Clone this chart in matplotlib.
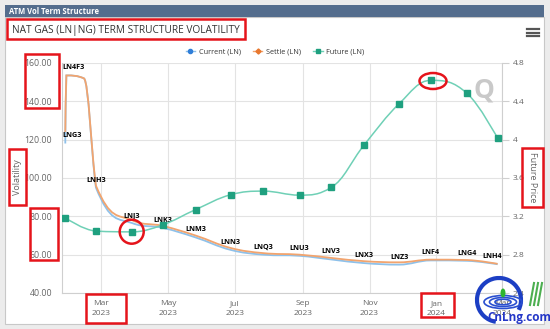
import numpy as np
import matplotlib
matplotlib.use("Agg")
import matplotlib.pyplot as plt
import matplotlib.dates as mdates
from matplotlib.path import Path
from matplotlib.patches import PathPatch, Rectangle, Ellipse, Arc
from matplotlib.lines import Line2D

plt.rcParams['font.family'] = ['Open Sans', 'DejaVu Sans']

W, H = 550, 329

# --- data ---
vol_labels = ["LNG3", "LN4F3", "", "LNH3", "LNJ3", "LNK3", "LNM3", "LNN3", "LNQ3",
              "LNU3", "LNV3", "LNX3", "LNZ3", "LNF4", "LNG4", "LNH4"]
vol_dates = ["2023-01-27", "2023-01-28", "2023-02-13", "2023-02-24", "2023-03-29",
             "2023-04-26", "2023-05-26", "2023-06-27", "2023-07-27", "2023-08-29",
             "2023-09-27", "2023-10-27", "2023-11-28", "2023-12-27", "2024-01-29",
             "2024-02-26"]
current_vol = [118.0, 153.5, 152.0, 95.0, 76.5, 74.0, 69.0, 62.5, 60.0, 59.4,
               57.5, 55.6, 54.8, 57.0, 56.8, 55.0]
settle_vol = [124.0, 153.5, 152.0, 96.0, 78.0, 75.0, 70.0, 63.5, 60.8, 60.0,
              58.3, 56.6, 56.0, 57.4, 57.2, 55.2]

future_dates = ["2023-01-27", "2023-02-24", "2023-03-29", "2023-04-26", "2023-05-26",
                "2023-06-27", "2023-07-27", "2023-08-29", "2023-09-27", "2023-10-27",
                "2023-11-28", "2023-12-27", "2024-01-29", "2024-02-26"]
future_price = [3.184, 3.046, 3.038, 3.111, 3.27, 3.425, 3.463, 3.421, 3.502,
                3.944, 4.375, 4.619, 4.484, 4.014]

x_ticks = ["2023-03-01", "2023-05-01", "2023-07-01", "2023-09-01", "2023-11-01",
           "2024-01-01", "2024-03-01"]
x_limits = ["2023-01-24", "2024-03-01"]
vol_ticks = [40, 60, 80, 100, 120, 140, 160]
price_ticks = [2.4, 2.8, 3.2, 3.6, 4.0, 4.4, 4.8]

C_CUR = "#8ec1ea"
C_SET = "#f2a46e"
C_FUT = "#6fd0b6"


def to_num(ds):
    return mdates.date2num(np.array(ds, dtype="datetime64[D]"))


def spline_path(xs, ys, smoothing=1.5):
    # bezier spline in the same way the original chart library smooths lines
    n = len(xs)
    denom = smoothing + 1
    verts = [(xs[0], ys[0])]
    codes = [Path.MOVETO]
    right = [None] * n
    for i in range(1, n):
        px, py = xs[i], ys[i]
        lx, ly = px, py
        if i < n - 1:
            ax_, ay_ = xs[i - 1], ys[i - 1]
            nx_, ny_ = xs[i + 1], ys[i + 1]
            lx = (smoothing * px + ax_) / denom
            ly = (smoothing * py + ay_) / denom
            rx = (smoothing * px + nx_) / denom
            ry = (smoothing * py + ny_) / denom
            if rx != lx:
                corr = (ry - ly) * (rx - px) / (rx - lx) + py - ry
                ly += corr
                ry += corr
            if ly > ay_ and ly > py:
                ly = max(ay_, py)
                ry = 2 * py - ly
            elif ly < ay_ and ly < py:
                ly = min(ay_, py)
                ry = 2 * py - ly
            if ry > ny_ and ry > py:
                ry = max(ny_, py)
                ly = 2 * py - ry
            elif ry < ny_ and ry < py:
                ry = min(ny_, py)
                ly = 2 * py - ry
            right[i] = (rx, ry)
        prev = right[i - 1] if right[i - 1] is not None else (xs[i - 1], ys[i - 1])
        verts += [prev, (lx, ly), (px, py)]
        codes += [Path.CURVE4] * 3
    return Path(verts, codes)


def fig_rect(x0, y0, x1, y1, **kw):
    return Rectangle((x0 / W, 1 - y1 / H), (x1 - x0) / W, (y1 - y0) / H,
                     transform=fig.transFigure, **kw)


fig = plt.figure(figsize=(5.5, 3.29), dpi=100)
fig.patch.set_facecolor("#ececec")

# frame, header bar
fig.add_artist(fig_rect(5, 17, 544, 324, facecolor="white", edgecolor="#c8c8c8", lw=0.8, zorder=-10))
fig.add_artist(fig_rect(5, 5, 544, 17, facecolor="#546d8d", edgecolor="none", zorder=-9))
fig.text(9 / W, 1 - 11 / H, "ATM Vol Term Structure", color="white", fontsize=5.5,
         fontweight="bold", va="center")
fig.text(12 / W, 1 - 30 / H, "NAT GAS (LN|NG) TERM STRUCTURE VOLATILITY", color="#333333",
         fontsize=7.3, va="center")
for yy in (29, 32.5, 36):
    fig.add_artist(Line2D([527 / W, 539 / W], [1 - yy / H] * 2, color="#555555", lw=1.6,
                          transform=fig.transFigure))

ax = fig.add_axes([62 / W, 1 - 293 / H, 440 / W, 230 / H])
ax.patch.set_alpha(0)
ax2 = ax.twinx()

xv = to_num(vol_dates)
xf = to_num(future_dates)

ax.add_patch(PathPatch(spline_path(xv, current_vol), fill=False, edgecolor=C_CUR, lw=1.3, zorder=3))
ax.add_patch(PathPatch(spline_path(xv, settle_vol), fill=False, edgecolor=C_SET, lw=1.3, zorder=4))
ax2.add_patch(PathPatch(spline_path(xf, future_price), fill=False, edgecolor=C_FUT, lw=1.1, zorder=3))
ax2.plot(xf, future_price, ls="none", marker="s", ms=4.2, color="#1fa07f", zorder=4)

ax.set_xlim(*to_num(x_limits))
ax.set_ylim(vol_ticks[0], vol_ticks[-1])
ax2.set_ylim(price_ticks[0], price_ticks[-1])
ax.set_yticks(vol_ticks)
ax.set_yticklabels(["%.2f" % v for v in vol_ticks])
ax2.set_yticks(price_ticks)
ax2.set_yticklabels(["%g" % v for v in price_ticks])
xt = to_num(x_ticks)
ax.set_xticks(xt)
ax.set_xticklabels([mdates.num2date(t).strftime("%b\n%Y") for t in xt], linespacing=1.6)

ax.grid(True, color="#e3e3e3", lw=0.8)
ax.set_axisbelow(True)
for a in (ax, ax2):
    for s in a.spines.values():
        s.set_visible(False)
ax2.spines["right"].set_visible(True)
ax2.spines["right"].set_color("#cfcfcf")
ax.spines["left"].set_visible(True)
ax.spines["left"].set_color("#cfcfcf")
ax.spines["bottom"].set_visible(True)
ax.spines["bottom"].set_color("#cfcfcf")
ax.tick_params(axis="y", length=0, pad=7, labelsize=6.3, labelcolor="#666666")
ax.tick_params(axis="x", length=0, pad=5, labelsize=6, labelcolor="#666666")
ax2.tick_params(axis="y", length=5, color="#cfcfcf", pad=3, labelsize=6, labelcolor="#666666")

fig.text(18 / W, 1 - 177 / H, "Volatility", fontsize=6.5, color="#666666", rotation=90,
         ha="center", va="center")
fig.text(533 / W, 1 - 177 / H, "Future Price", fontsize=6.5, color="#666666", rotation=270,
         ha="center", va="center")

# data labels on the current series
anns = []
for x, y, t in zip(xv, current_vol, vol_labels):
    if t:
        anns.append(ax.annotate(t, (x, y), xytext=(0, 5.4), textcoords="offset points",
                                ha="center", va="center", fontsize=5.2, fontweight="bold",
                                color="black", zorder=6))
fig.canvas.draw()
r = fig.canvas.get_renderer()
abox = ax.get_window_extent(r)
for a in anns:
    bb = a.get_window_extent(r)
    dx = 0
    if bb.x0 < abox.x0:
        dx = abox.x0 - bb.x0
    elif bb.x1 > abox.x1:
        dx = abox.x1 - bb.x1
    a.xyann = (dx * 72 / fig.dpi, 5.4)

# legend
handles = [Line2D([], [], color=C_CUR, marker="o", ms=3, mfc="#2f7ed8", mec="#2f7ed8", lw=1),
           Line2D([], [], color=C_SET, marker="D", ms=2.6, mfc="#e8772e", mec="#e8772e", lw=1),
           Line2D([], [], color=C_FUT, marker="s", ms=3, mfc="#1fa07f", mec="#1fa07f", lw=1)]
fig.legend(handles, ["Current (LN)", "Settle (LN)", "Future (LN)"], loc="center",
           bbox_to_anchor=(275 / W, 1 - 52 / H), ncol=3, frameon=False, fontsize=5.2,
           handlelength=1.3, handletextpad=0.5, columnspacing=1.7, labelcolor="#333333")

# watermark Q
fig.text(484 / W, 1 - 90 / H, "Q", fontsize=19, fontweight="bold", color="#c9c9c9",
         ha="center", va="center")

# red highlight boxes
for x0, y0, x1, y1 in [(7, 19, 245, 39), (25, 54, 59, 108), (30, 208, 58, 260),
                       (9, 149, 26, 205), (86, 294, 126, 323), (421, 293, 454, 317),
                       (522, 148, 543, 207)]:
    fig.add_artist(fig_rect(x0, y0, x1, y1, fill=False, edgecolor="#e5141b", lw=1.8))
fig.add_artist(Ellipse((131.7 / W, 1 - 231.7 / H), 24 / W, 24 / H, fill=False,
                       edgecolor="#e5141b", lw=1.8, transform=fig.transFigure))
fig.add_artist(Ellipse((433 / W, 1 - 81 / H), 27 / W, 16 / H, fill=False,
                       edgecolor="#e5141b", lw=1.8, transform=fig.transFigure))

# logo
fig.add_artist(Arc((499 / W, 1 - 300 / H), 44 / W, 44 / H, theta1=-40, theta2=265,
                   edgecolor="#1c3fc4", lw=3, transform=fig.transFigure))
for w_, h_ in [(38, 13), (27, 9), (16, 5.5)]:
    fig.add_artist(Ellipse((503 / W, 1 - 302 / H), w_ / W, h_ / H, fill=False,
                           edgecolor="#2a4fd0", lw=1.2, transform=fig.transFigure))
fig.add_artist(Ellipse((503 / W, 1 - 293 / H), 5 / W, 9 / H, facecolor="#2fb52f",
                       edgecolor="none", transform=fig.transFigure))
for gx in (530, 534, 538):
    fig.add_artist(Line2D([gx / W, (gx + 4) / W], [1 - 305 / H, 1 - 283 / H], color="#4caf50",
                          lw=1.5, transform=fig.transFigure))
fig.text(519 / W, 1 - 318 / H, "CnLng.com", fontsize=8.5, fontweight="bold", color="#2437c8",
         ha="center", va="center")

fig.savefig("out.png", dpi=100, facecolor=fig.get_facecolor())
